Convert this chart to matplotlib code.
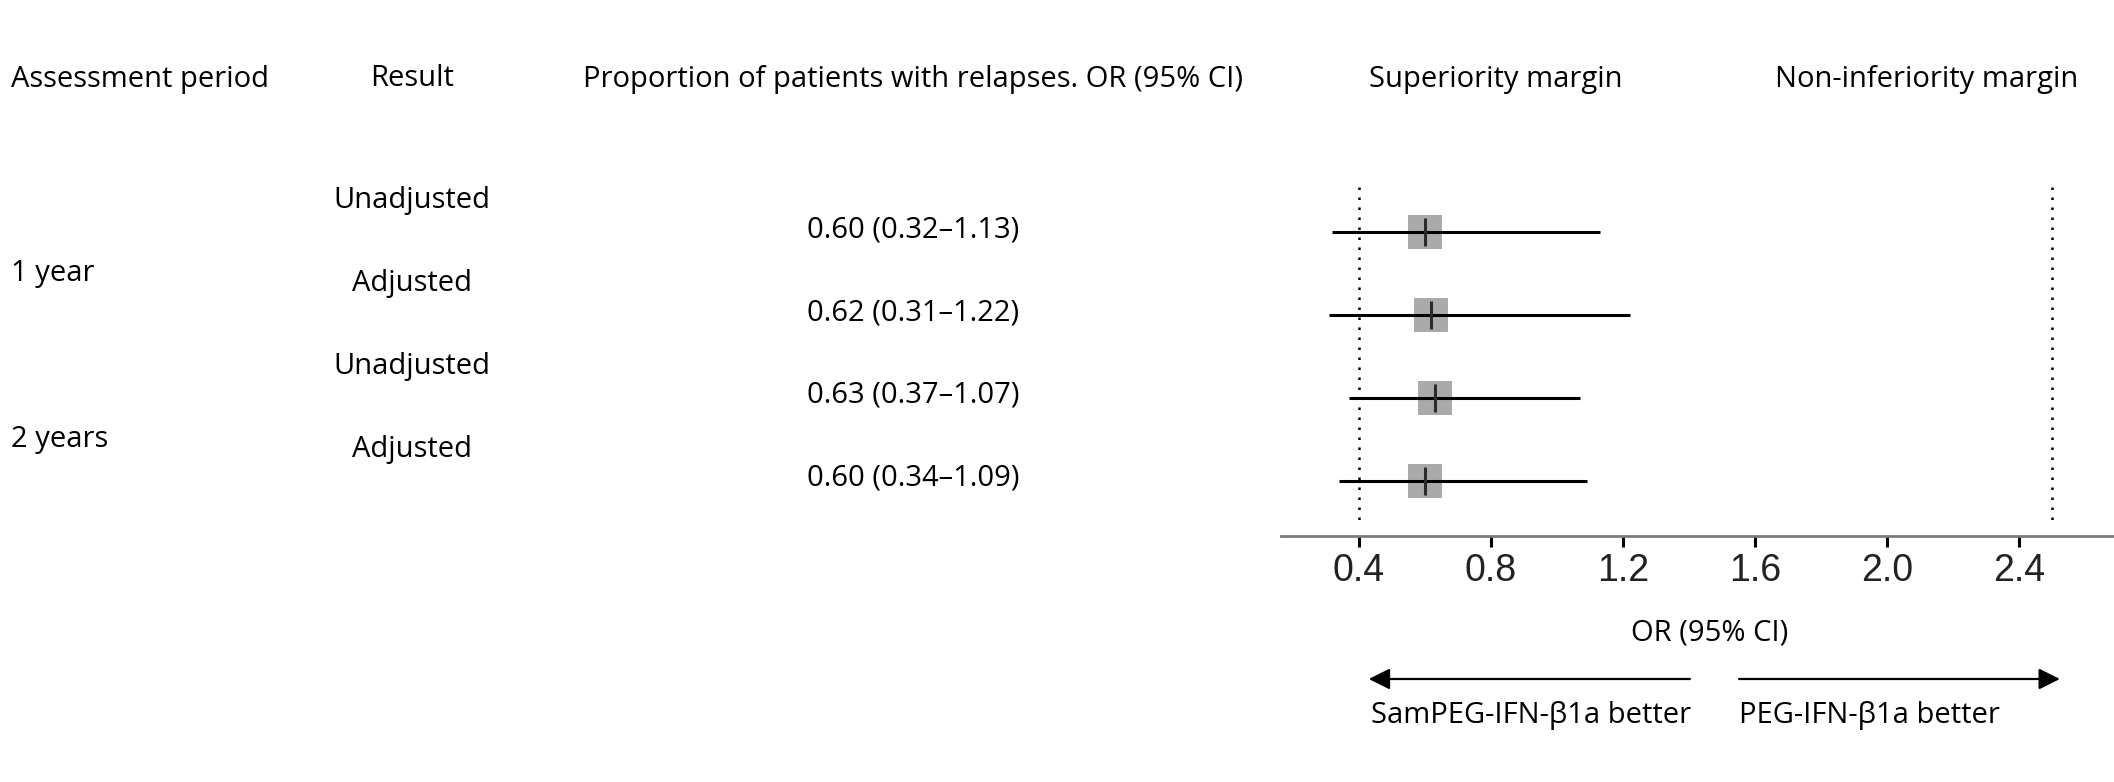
import matplotlib.pyplot as plt
from matplotlib.transforms import blended_transform_factory

periods = ["1 year", "2 years"]
results = ["Unadjusted", "Adjusted", "Unadjusted", "Adjusted"]
odds_ratio = [0.60, 0.62, 0.63, 0.60]
ci_low = [0.32, 0.31, 0.37, 0.34]
ci_high = [1.13, 1.22, 1.07, 1.09]
superiority_margin = 0.4
noninferiority_margin = 2.5
x_ticks = [0.4, 0.8, 1.2, 1.6, 2.0, 2.4]

plt.rcParams["font.family"] = ["Open Sans", "DejaVu Sans"]
TEXT_SIZE = 21

W, H = 2114, 782
fig = plt.figure(figsize=(W / 100, H / 100), dpi=100)
ax = fig.add_axes([1281 / W, 1 - 536 / H, 1 - 1281 / W, (536 - 150) / H])
ax.set_xlim(0.164, 2.688)
ax.set_ylim(3.663, -0.988)

rows = list(range(len(results)))

# boxes, CI lines and point ticks
ax.plot(odds_ratio, rows, "s", ms=24.5, color="#aaaaaa", mew=0, zorder=1)
ax.hlines(rows, ci_low, ci_high, color="black", lw=2.2, zorder=2)
ax.plot(odds_ratio, rows, "|", ms=20, mew=2.2, color="#2b2b2b", zorder=3)

# margins
ax.vlines([superiority_margin, noninferiority_margin], -0.54, 3.49,
          colors="black", linestyles=(0, (1, 3)), lw=1.8)

for side in ["top", "left", "right"]:
    ax.spines[side].set_visible(False)
ax.spines["bottom"].set_color("#7a7a7a")
ax.spines["bottom"].set_linewidth(2)
ax.set_yticks([])
ax.set_xticks(x_ticks, labels=[f"{t:.1f}" for t in x_ticks],
              fontfamily=["Liberation Sans Narrow", "Liberation Sans"],
              fontsize=27, color="#222222")
ax.tick_params(axis="x", direction="out", length=8, width=2.2,
               color="black", pad=4)

# table text
row_tr = blended_transform_factory(fig.transFigure, ax.transData)
for i, label in enumerate(results):
    ax.text(412 / W, i - 0.38, label, transform=row_tr, ha="center",
            va="center", fontsize=TEXT_SIZE)
    value = f"{odds_ratio[i]:.2f} ({ci_low[i]:.2f}\u2013{ci_high[i]:.2f})"
    ax.text(913 / W, i - 0.03, value, transform=row_tr, ha="center",
            va="center", fontsize=TEXT_SIZE)
for j, label in enumerate(periods):
    ax.text(11 / W, 2 * j + 0.5, label, transform=row_tr, ha="left",
            va="center", fontsize=TEXT_SIZE)

header_y = 1 - 79 / H
fig.text(11 / W, header_y, "Assessment period", ha="left", va="center",
         fontsize=TEXT_SIZE)
fig.text(412 / W, header_y, "Result", ha="center", va="center",
         fontsize=TEXT_SIZE)
fig.text(913 / W, header_y, "Proportion of patients with relapses. OR (95% CI)",
         ha="center", va="center", fontsize=TEXT_SIZE)
fig.text(1496 / W, header_y, "Superiority margin", ha="center", va="center",
         fontsize=TEXT_SIZE)
fig.text(1927 / W, header_y, "Non-inferiority margin", ha="center",
         va="center", fontsize=TEXT_SIZE)

# axis caption and direction arrows
low_tr = blended_transform_factory(ax.transData, fig.transFigure)
ax.text(1.464, 1 - 633 / H, "OR (95% CI)", transform=low_tr, ha="center",
        va="center", fontsize=TEXT_SIZE)
arrow_y = 1 - 679 / H
arrow_props = dict(arrowstyle="-|>", color="black", lw=1.6,
                   mutation_scale=32, shrinkA=0, shrinkB=0)
ax.annotate("", xy=(0.43, arrow_y), xytext=(1.403, arrow_y),
            xycoords=("data", "figure fraction"),
            textcoords=("data", "figure fraction"),
            arrowprops=arrow_props, annotation_clip=False)
ax.annotate("", xy=(2.524, arrow_y), xytext=(1.552, arrow_y),
            xycoords=("data", "figure fraction"),
            textcoords=("data", "figure fraction"),
            arrowprops=arrow_props, annotation_clip=False)
ax.text(1.406, 1 - 716 / H, "SamPEG-IFN-\u03b21a better", transform=low_tr,
        ha="right", va="center", fontsize=TEXT_SIZE)
ax.text(1.552, 1 - 716 / H, "PEG-IFN-\u03b21a better", transform=low_tr,
        ha="left", va="center", fontsize=TEXT_SIZE)

fig.savefig("out.png", dpi=100)
plt.close(fig)
